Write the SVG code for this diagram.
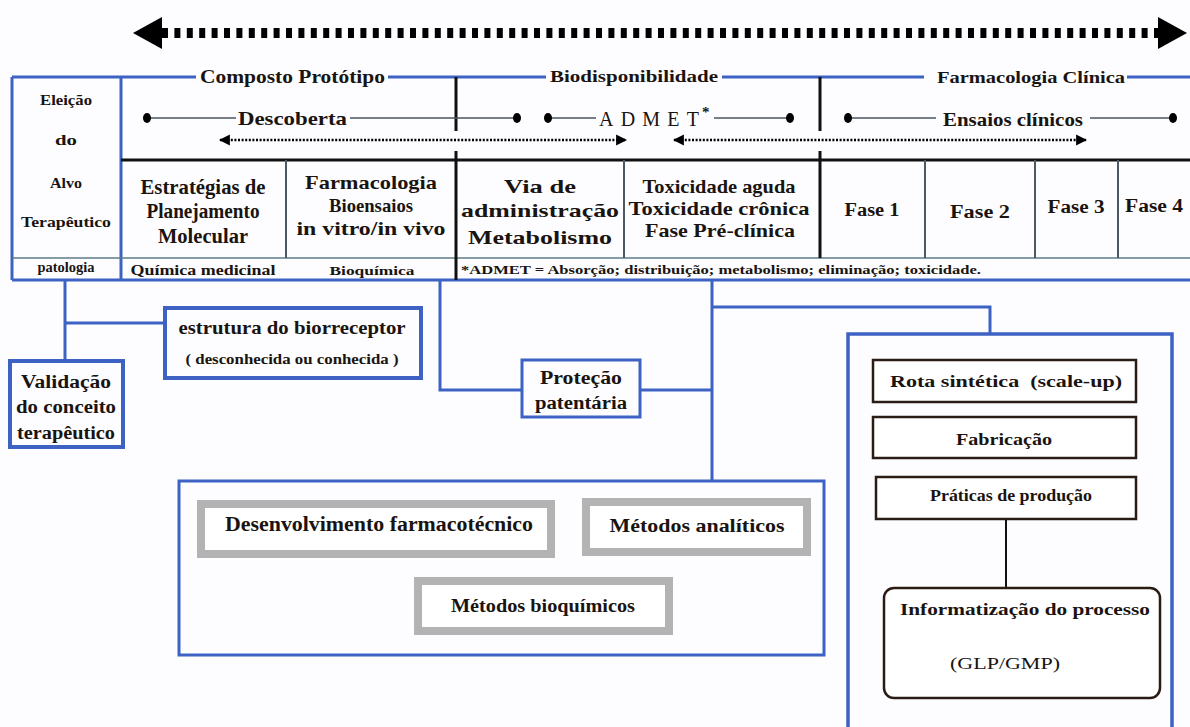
<svg xmlns="http://www.w3.org/2000/svg" width="1190" height="727" viewBox="0 0 1190 727">
<defs>
<style>
text{font-family:'Liberation Serif','DejaVu Serif',serif;font-weight:bold;fill:#1a1410}
.c{text-anchor:middle}
.n{font-weight:normal}
.blue{stroke:#3d62c4;fill:none}
.blk{stroke:#111;fill:none}
.thin{stroke:#4a5560;stroke-width:1.3;fill:none}
.cell{stroke:#4a5a60;stroke-width:2;fill:none}
.gbox{fill:#fff;stroke:#b3b3b3;stroke-width:8}
.dbox{fill:#fff;stroke:#2a1c14;stroke-width:2.5}
</style>
<marker id="smA" viewBox="0 0 10 10" refX="9" refY="5" markerWidth="11" markerHeight="12" markerUnits="userSpaceOnUse" orient="auto-start-reverse"><path d="M0,0 L10,5 L0,10Z" fill="#000"/></marker>
</defs>
<rect width="1190" height="727" fill="#fdfdff"/>

<g id="timeline-arrow">
<line x1="162" y1="33" x2="1160" y2="33" stroke="#000" stroke-width="10" stroke-dasharray="6 6.4"/>
<path d="M133,33 L162,17 L162,49Z" fill="#000"/>
<path d="M1187,33 L1158,17 L1158,49Z" fill="#000"/>
</g>

<g id="table-frame">
<path class="blue" stroke-width="3" d="M12,77 H196 M388,77 H546 M722,77 H924 M1127,77 H1190"/>
<path class="blue" stroke-width="3" d="M12,77 V280 M121,77 V280 M12,280 H1190"/>
<path d="M12,258 H1190" stroke="#5d7a88" stroke-width="1.5"/>
<path class="blk" stroke-width="3" d="M121,160 H1190"/>
<path class="blk" stroke-width="3" d="M456,77 V131 M456,151 V280 M820,77 V131 M820,151 V258"/>
<path class="cell" d="M286,160 V258 M624,160 V258 M925,160 V258 M1035,160 V258 M1118,160 V258"/>
</g>

<g id="headers">
<text x="200" y="83" font-size="19" textLength="185" lengthAdjust="spacingAndGlyphs">Composto Protótipo</text>
<text x="550" y="82" font-size="17" textLength="168" lengthAdjust="spacingAndGlyphs">Biodisponibilidade</text>
<text x="937" y="83" font-size="17" textLength="188" lengthAdjust="spacingAndGlyphs" font-weight="600">Farmacologia Clínica</text>
</g>

<g id="left-column">
<text class="c" x="66" y="105" font-size="14" textLength="52" lengthAdjust="spacingAndGlyphs">Eleição</text>
<text class="c" x="66" y="145" font-size="14" textLength="22" lengthAdjust="spacingAndGlyphs">do</text>
<text class="c" x="66" y="188" font-size="14" textLength="32" lengthAdjust="spacingAndGlyphs">Alvo</text>
<text class="c" x="66" y="227" font-size="14" textLength="90" lengthAdjust="spacingAndGlyphs">Terapêutico</text>
<text class="c" x="66" y="272" font-size="14" textLength="57" lengthAdjust="spacingAndGlyphs">patologia</text>
</g>

<g id="phases">
<path class="thin" d="M147,118 H236 M350,118 H517 M548,118 H596 M714,118 H790 M848,118 H936 M1090,118 H1173"/>
<ellipse cx="147" cy="118" rx="4" ry="5" fill="#000"/>
<ellipse cx="517" cy="118" rx="4" ry="5" fill="#000"/>
<ellipse cx="548" cy="118" rx="4" ry="5" fill="#000"/>
<ellipse cx="790" cy="118" rx="4" ry="5" fill="#000"/>
<ellipse cx="848" cy="118" rx="4" ry="5" fill="#000"/>
<ellipse cx="1173" cy="118" rx="4" ry="5" fill="#000"/>
<text x="238" y="125" font-size="19" textLength="109" lengthAdjust="spacingAndGlyphs">Descoberta</text>
<text class="n" x="599" y="126" font-size="20" textLength="100" lengthAdjust="spacing">ADMET</text>
<text x="702" y="117" font-size="15">*</text>
<text x="943" y="126" font-size="19" textLength="140" lengthAdjust="spacingAndGlyphs">Ensaios clínicos</text>
<line x1="220" y1="140" x2="626" y2="140" stroke="#000" stroke-width="2.5" stroke-dasharray="2 1.6" marker-start="url(#smA)" marker-end="url(#smA)"/>
<line x1="674" y1="140" x2="1086" y2="140" stroke="#000" stroke-width="2.5" stroke-dasharray="2 1.6" marker-start="url(#smA)" marker-end="url(#smA)"/>
</g>

<g id="row-cells">
<text class="c" x="203" y="194" font-size="20" textLength="125" lengthAdjust="spacingAndGlyphs">Estratégias de</text>
<text class="c" x="203" y="218" font-size="20" textLength="113" lengthAdjust="spacingAndGlyphs">Planejamento</text>
<text class="c" x="203" y="243" font-size="20" textLength="90" lengthAdjust="spacingAndGlyphs">Molecular</text>
<text class="c" x="371" y="189" font-size="19" textLength="132" lengthAdjust="spacingAndGlyphs">Farmacologia</text>
<text class="c" x="371" y="212" font-size="19" textLength="84" lengthAdjust="spacingAndGlyphs">Bioensaios</text>
<text class="c" x="371" y="235" font-size="19" textLength="149" lengthAdjust="spacingAndGlyphs">in vitro/in vivo</text>
<text class="c" x="540" y="193" font-size="19" textLength="72" lengthAdjust="spacingAndGlyphs">Via de</text>
<text class="c" x="540" y="217" font-size="19" textLength="158" lengthAdjust="spacingAndGlyphs">administração</text>
<text class="c" x="540" y="244" font-size="19" textLength="144" lengthAdjust="spacingAndGlyphs">Metabolismo</text>
<text class="c" x="719" y="193" font-size="19" textLength="153" lengthAdjust="spacingAndGlyphs">Toxicidade aguda</text>
<text class="c" x="719" y="215" font-size="19" textLength="181" lengthAdjust="spacingAndGlyphs">Toxicidade crônica</text>
<text class="c" x="720" y="237" font-size="19" textLength="150" lengthAdjust="spacingAndGlyphs">Fase Pré-clínica</text>
<text class="c" x="872" y="216" font-size="18" textLength="55" lengthAdjust="spacingAndGlyphs">Fase 1</text>
<text class="c" x="980" y="218" font-size="18" textLength="60" lengthAdjust="spacingAndGlyphs">Fase 2</text>
<text class="c" x="1076" y="213" font-size="18" textLength="57" lengthAdjust="spacingAndGlyphs">Fase 3</text>
<text class="c" x="1154" y="212" font-size="18" textLength="58" lengthAdjust="spacingAndGlyphs">Fase 4</text>
<text class="c" x="203" y="275" font-size="14" textLength="145" lengthAdjust="spacingAndGlyphs">Química medicinal</text>
<text class="c" x="372" y="275" font-size="13" textLength="85" lengthAdjust="spacingAndGlyphs">Bioquímica</text>
<text x="461" y="274" font-size="12" textLength="520" lengthAdjust="spacingAndGlyphs">*ADMET = Absorção; distribuição; metabolismo; eliminação; toxicidade.</text>
</g>

<g id="connectors">
<path class="blue" stroke-width="3" d="M65,280 V360 M65,323 H165"/>
<path class="blue" stroke-width="3" d="M440,280 V390 H522"/>
<path class="blue" stroke-width="3" d="M712,280 V481 M640,390 H712 M712,307 H990 V333"/>
<path d="M1006,519 V588" stroke="#111" stroke-width="2"/>
</g>

<g id="estrutura">
<rect x="165" y="308" width="256" height="70" fill="#fff" class="blue" stroke-width="4"/>
<text class="c" x="292" y="334" font-size="19" textLength="227" lengthAdjust="spacingAndGlyphs">estrutura do biorreceptor</text>
<text class="c" x="292" y="364" font-size="14" textLength="213" lengthAdjust="spacingAndGlyphs">( desconhecida ou conhecida )</text>
</g>

<g id="validacao">
<rect x="10" y="361" width="113" height="86" fill="#fff" class="blue" stroke-width="4"/>
<text class="c" x="66" y="388" font-size="18" textLength="90" lengthAdjust="spacingAndGlyphs">Validação</text>
<text class="c" x="66" y="413" font-size="18" textLength="100" lengthAdjust="spacingAndGlyphs">do conceito</text>
<text class="c" x="66" y="439" font-size="18" textLength="98" lengthAdjust="spacingAndGlyphs">terapêutico</text>
</g>

<g id="protecao">
<rect x="522" y="360" width="118" height="57" fill="#fff" class="blue" stroke-width="3"/>
<text class="c" x="581" y="384" font-size="18" textLength="82" lengthAdjust="spacingAndGlyphs">Proteção</text>
<text class="c" x="581" y="409" font-size="18" textLength="92" lengthAdjust="spacingAndGlyphs">patentária</text>
</g>

<g id="desenvolvimento-group">
<rect x="179" y="481" width="645" height="174" fill="none" class="blue" stroke-width="3"/>
<g id="desenvolvimento">
<rect x="201" y="504" width="350" height="50" class="gbox"/>
<text class="c" x="379" y="531" font-size="20" textLength="308" lengthAdjust="spacingAndGlyphs">Desenvolvimento farmacotécnico</text>
</g>
<g id="analiticos">
<rect x="586" y="502" width="221" height="50" class="gbox"/>
<text class="c" x="697" y="532" font-size="19" textLength="175" lengthAdjust="spacingAndGlyphs">Métodos analíticos</text>
</g>
<g id="bioquimicos">
<rect x="418" y="581" width="251" height="50" class="gbox"/>
<text class="c" x="543" y="612" font-size="19" textLength="184" lengthAdjust="spacingAndGlyphs">Métodos bioquímicos</text>
</g>
</g>

<g id="producao-group">
<path class="blue" stroke-width="3.5" d="M848,727 V334 H1172 V727"/>
<g id="rota">
<rect x="873" y="360" width="263" height="42" class="dbox"/>
<text class="c" x="1006" y="387" font-size="17" textLength="232" lengthAdjust="spacingAndGlyphs" xml:space="preserve">Rota sintética  (scale-up)</text>
</g>
<g id="fabricacao">
<rect x="873" y="417" width="263" height="41" class="dbox"/>
<text class="c" x="1004" y="445" font-size="17" textLength="96" lengthAdjust="spacingAndGlyphs">Fabricação</text>
</g>
<g id="praticas">
<rect x="876" y="477" width="260" height="42" class="dbox"/>
<text class="c" x="1011" y="501" font-size="17" textLength="162" lengthAdjust="spacingAndGlyphs">Práticas de produção</text>
</g>
<g id="informatizacao">
<rect x="884" y="588" width="276" height="110" rx="10" class="dbox"/>
<text class="c" x="1025" y="615" font-size="17" textLength="250" lengthAdjust="spacingAndGlyphs">Informatização do processo</text>
<text class="c n" x="1005" y="669" font-size="17" textLength="110" lengthAdjust="spacingAndGlyphs">(GLP/GMP)</text>
</g>
</g>
</svg>
